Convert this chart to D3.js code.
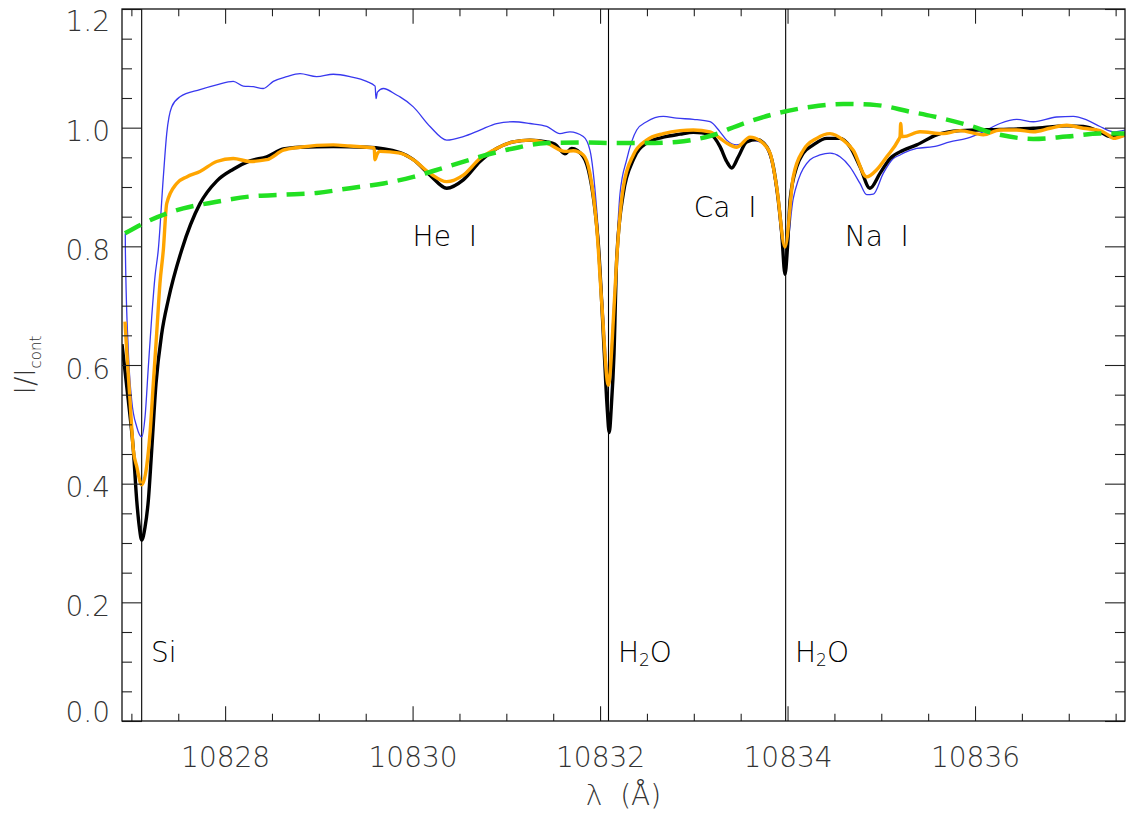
<!DOCTYPE html>
<html>
<head>
<meta charset="utf-8">
<script src="https://cdn.jsdelivr.net/npm/d3@7"></script>
<style>
  body { margin: 0; background: #fff; }
  svg text { font-family: "DejaVu Sans", "Liberation Sans", sans-serif; }
</style>
</head>
<body>
<svg id="chart" width="1126" height="814"></svg>
<script>
// ---- data -------------------------------------------------------------
// wavelength (Å), normalised intensity I/Icont

// synthetic spectrum (black)
const synthWave = [10826.900,10826.967,10827.021,10827.057,10827.085,10827.110,10827.146,10827.181,10827.217,10827.263,10827.324,10827.394,10827.537,10827.732,10827.910,10828.087,10828.265,10828.444,10828.621,10828.799,10829.154,10829.510,10829.866,10830.008,10830.186,10830.364,10830.541,10830.719,10830.897,10831.074,10831.252,10831.431,10831.519,10831.626,10831.697,10831.821,10831.892,10831.946,10831.981,10832.045,10832.075,10832.098,10832.120,10832.149,10832.177,10832.248,10832.355,10832.497,10832.675,10832.853,10832.995,10833.173,10833.280,10833.351,10833.404,10833.475,10833.564,10833.671,10833.778,10833.849,10833.901,10833.938,10833.973,10834.000,10834.027,10834.098,10834.168,10834.275,10834.418,10834.560,10834.666,10834.773,10834.879,10834.986,10835.093,10835.235,10835.378,10835.591,10835.840,10836.266,10836.622,10836.978,10837.155,10837.333,10837.440,10837.600];
const synthFlux = [0.635,0.541,0.457,0.372,0.327,0.305,0.327,0.372,0.457,0.569,0.653,0.710,0.794,0.872,0.910,0.930,0.944,0.951,0.964,0.967,0.968,0.967,0.958,0.946,0.920,0.898,0.912,0.943,0.965,0.976,0.979,0.976,0.972,0.956,0.965,0.951,0.917,0.861,0.805,0.620,0.530,0.486,0.530,0.620,0.777,0.889,0.946,0.974,0.984,0.989,0.992,0.989,0.968,0.943,0.932,0.951,0.976,0.980,0.968,0.934,0.878,0.822,0.753,0.800,0.878,0.934,0.957,0.971,0.982,0.982,0.968,0.934,0.898,0.923,0.948,0.962,0.971,0.988,0.995,0.997,0.999,1.003,1.002,0.993,0.985,0.987];

// observed spectrum, orange
const obsAWave = [10826.932,10826.950,10826.985,10827.021,10827.057,10827.110,10827.163,10827.199,10827.234,10827.270,10827.305,10827.341,10827.377,10827.484,10827.590,10827.732,10827.910,10828.087,10828.265,10828.444,10828.621,10828.799,10829.154,10829.332,10829.510,10829.590,10829.599,10829.620,10829.652,10829.866,10830.008,10830.186,10830.364,10830.541,10830.719,10830.897,10831.074,10831.252,10831.431,10831.626,10831.714,10831.821,10831.892,10831.964,10832.020,10832.088,10832.150,10832.177,10832.248,10832.355,10832.497,10832.675,10832.853,10832.995,10833.173,10833.280,10833.351,10833.458,10833.599,10833.706,10833.813,10833.884,10833.973,10834.061,10834.168,10834.311,10834.453,10834.595,10834.701,10834.844,10834.951,10835.058,10835.182,10835.200,10835.207,10835.220,10835.235,10835.413,10835.661,10835.840,10836.088,10836.266,10836.445,10836.622,10836.800,10836.978,10837.155,10837.333,10837.418,10837.475,10837.600];
const obsAFlux = [0.673,0.625,0.541,0.457,0.429,0.398,0.429,0.485,0.569,0.653,0.738,0.794,0.872,0.906,0.917,0.926,0.943,0.948,0.943,0.946,0.962,0.967,0.971,0.969,0.967,0.966,0.946,0.955,0.960,0.957,0.946,0.923,0.909,0.920,0.948,0.965,0.976,0.979,0.974,0.960,0.961,0.954,0.923,0.833,0.700,0.566,0.700,0.777,0.900,0.954,0.979,0.990,0.995,0.996,0.993,0.982,0.974,0.967,0.984,0.978,0.957,0.900,0.799,0.917,0.962,0.982,0.990,0.979,0.962,0.917,0.929,0.951,0.979,0.985,1.007,0.985,0.985,0.993,0.990,0.995,0.988,0.996,0.996,0.993,0.999,1.004,0.999,0.995,0.988,0.982,0.988];

// observed spectrum, blue
const obsBWave = [10826.935,10826.936,10826.967,10827.003,10827.057,10827.110,10827.146,10827.181,10827.217,10827.252,10827.287,10827.341,10827.377,10827.430,10827.519,10827.732,10827.910,10828.087,10828.194,10828.301,10828.407,10828.514,10828.657,10828.799,10828.977,10829.154,10829.332,10829.510,10829.600,10829.610,10829.625,10829.688,10829.830,10829.866,10830.008,10830.186,10830.364,10830.541,10830.719,10830.897,10831.074,10831.252,10831.431,10831.572,10831.679,10831.821,10831.892,10831.964,10832.030,10832.090,10832.160,10832.213,10832.284,10832.391,10832.497,10832.675,10832.817,10832.995,10833.173,10833.280,10833.351,10833.458,10833.599,10833.706,10833.813,10833.884,10833.973,10834.060,10834.115,10834.240,10834.346,10834.453,10834.560,10834.666,10834.773,10834.844,10834.915,10835.021,10835.128,10835.200,10835.235,10835.378,10835.555,10835.733,10835.911,10836.088,10836.266,10836.445,10836.622,10836.871,10837.049,10837.191,10837.333,10837.475,10837.600];
const obsBFlux = [0.822,0.794,0.625,0.541,0.496,0.479,0.513,0.597,0.681,0.749,0.794,0.917,0.990,1.035,1.052,1.064,1.072,1.078,1.070,1.069,1.066,1.078,1.086,1.091,1.086,1.090,1.086,1.078,1.070,1.049,1.060,1.066,1.055,1.052,1.035,1.002,0.979,0.985,0.996,1.007,1.010,1.007,1.002,0.990,0.993,0.985,0.962,0.862,0.700,0.580,0.750,0.889,0.946,0.996,1.010,1.019,1.016,1.014,1.010,0.993,0.979,0.971,0.979,0.976,0.951,0.889,0.777,0.880,0.912,0.946,0.954,0.957,0.951,0.934,0.906,0.887,0.888,0.923,0.948,0.954,0.957,0.965,0.968,0.976,0.982,0.993,1.007,1.014,1.010,1.018,1.019,1.013,1.002,0.993,0.996];

// broad profile (green dashed)
const profWave = [10826.932,10827.199,10827.554,10827.910,10828.265,10828.621,10828.977,10829.332,10829.688,10830.008,10830.364,10830.719,10831.074,10831.431,10831.800,10832.200,10832.497,10832.817,10833.173,10833.528,10833.884,10834.240,10834.595,10834.951,10835.306,10835.555,10835.911,10836.266,10836.622,10836.978,10837.333,10837.600];
const profFlux = [0.822,0.844,0.864,0.875,0.884,0.887,0.890,0.898,0.906,0.917,0.934,0.951,0.965,0.974,0.975,0.974,0.974,0.976,0.986,1.007,1.024,1.035,1.040,1.038,1.027,1.019,1.005,0.988,0.981,0.985,0.990,0.990];

// line identifications
const lineWaves  = [10827.11, 10832.09, 10833.98];
const lineNames  = ["Si", "H2O", "H2O"];
const bandNames  = ["He I", "Ca I", "Na I"];
const bandWaves  = [10830.00, 10833.00, 10834.61];
const bandLevels = [0.80, 0.85, 0.80];

// axes
const xDomain = [10826.9, 10837.6];
const yDomain = [0, 1.2];
const xTicks = [10828, 10830, 10832, 10834, 10836];
const yTicks = [0.0, 0.2, 0.4, 0.6, 0.8, 1.0, 1.2];

// ---- drawing ----------------------------------------------------------
const L = 122, R = 1125, T = 9, B = 721;
const svg = d3.select("#chart");
svg.append("rect").attr("width", 1126).attr("height", 814).attr("fill", "#fff");

const x = d3.scaleLinear().domain(xDomain).range([L, R]);
const y = d3.scaleLinear().domain(yDomain).range([B, T]);

svg.append("defs").append("clipPath").attr("id", "plotClip")
  .append("rect").attr("x", L).attr("y", T).attr("width", R - L).attr("height", B - T);

const plot = svg.append("g").attr("clip-path", "url(#plotClip)");

const zip = (w, f) => w.map((d, i) => [d, f[i]]);
const line = d3.line().x(d => x(d[0])).y(d => y(d[1])).curve(d3.curveMonotoneX);

// vertical identification lines
plot.selectAll("line.ident").data(lineWaves).join("line")
  .attr("class", "ident")
  .attr("x1", d => x(d)).attr("x2", d => x(d))
  .attr("y1", T).attr("y2", B)
  .attr("stroke", "#000").attr("stroke-width", 1.1);

plot.append("path").datum(zip(obsBWave, obsBFlux))
  .attr("d", line).attr("fill", "none")
  .attr("stroke", "#3838ef").attr("stroke-width", 1.3);

plot.append("path").datum(zip(synthWave, synthFlux))
  .attr("d", line).attr("fill", "none")
  .attr("stroke", "#000").attr("stroke-width", 3.4).attr("stroke-linejoin", "round");

plot.append("path").datum(zip(obsAWave, obsAFlux))
  .attr("d", line).attr("fill", "none")
  .attr("stroke", "#ffa500").attr("stroke-width", 3.4).attr("stroke-linejoin", "round");

plot.append("path").datum(zip(profWave, profFlux))
  .attr("d", line).attr("fill", "none")
  .attr("stroke", "#22e022").attr("stroke-width", 4.5)
  .attr("stroke-dasharray", "18 10");

// axes: ticks on all four sides, pointing inward
const tickCol = "#222";
const xMinor = d3.range(10827, 10837.6, 0.5).filter(v => !xTicks.includes(v));
const yMinor = d3.range(0, 1.2001, 0.05).map(v => +v.toFixed(2)).filter(v => !yTicks.includes(v));

function styleAxis(g) {
  g.select(".domain").remove();
  g.selectAll(".tick line").attr("stroke", tickCol).attr("stroke-width", 1.1);
}

const bottom = svg.append("g").attr("transform", `translate(0,${B})`)
  .call(d3.axisBottom(x).tickValues(xTicks).tickSizeInner(-14.7).tickSizeOuter(0).tickFormat(d3.format("d")))
  .call(styleAxis);
bottom.selectAll(".tick text")
  .attr("y", 46).attr("dy", null)
  .attr("font-size", 28).attr("font-weight", 200).attr("fill", "#333");
svg.append("g").attr("transform", `translate(0,${B})`)
  .call(d3.axisBottom(x).tickValues(xMinor).tickSizeInner(-7.3).tickSizeOuter(0).tickFormat(""))
  .call(styleAxis);
svg.append("g").attr("transform", `translate(0,${T})`)
  .call(d3.axisTop(x).tickValues(xTicks).tickSizeInner(-14.7).tickSizeOuter(0).tickFormat(""))
  .call(styleAxis);
svg.append("g").attr("transform", `translate(0,${T})`)
  .call(d3.axisTop(x).tickValues(xMinor).tickSizeInner(-7.3).tickSizeOuter(0).tickFormat(""))
  .call(styleAxis);

const left = svg.append("g").attr("transform", `translate(${L},0)`)
  .call(d3.axisLeft(y).tickValues(yTicks).tickSizeInner(-20).tickSizeOuter(0).tickFormat(d3.format(".1f")))
  .call(styleAxis);
left.selectAll(".tick text")
  .attr("x", -12).attr("dy", null)
  .attr("y", d => Math.min(Math.max(y(d) + 13, T + 21.7), B + 0.7) - y(d))
  .attr("text-anchor", "end")
  .attr("font-size", 28).attr("font-weight", 200).attr("fill", "#333");
svg.append("g").attr("transform", `translate(${L},0)`)
  .call(d3.axisLeft(y).tickValues(yMinor).tickSizeInner(-10).tickSizeOuter(0).tickFormat(""))
  .call(styleAxis);
svg.append("g").attr("transform", `translate(${R},0)`)
  .call(d3.axisRight(y).tickValues(yTicks).tickSizeInner(-20).tickSizeOuter(0).tickFormat(""))
  .call(styleAxis);
svg.append("g").attr("transform", `translate(${R},0)`)
  .call(d3.axisRight(y).tickValues(yMinor).tickSizeInner(-10).tickSizeOuter(0).tickFormat(""))
  .call(styleAxis);

// frame
svg.append("rect").attr("x", L).attr("y", T).attr("width", R - L).attr("height", B - T)
  .attr("fill", "none").attr("stroke", "#111").attr("stroke-width", 1.3);

// identification labels
const labelY = 0.10;
lineWaves.forEach((w, i) => {
  const t = svg.append("text")
    .attr("x", x(w + 0.1)).attr("y", y(labelY))
    .attr("font-size", 28).attr("font-weight", 300).attr("fill", "#000");
  const name = lineNames[i];
  if (name === "H2O") {
    t.append("tspan").text("H");
    t.append("tspan").attr("font-size", 17).attr("dy", 4).text("2");
    t.append("tspan").attr("dy", -4).text("O");
  } else {
    t.text(name);
  }
});
bandNames.forEach((n, i) => {
  svg.append("text")
    .attr("x", x(bandWaves[i])).attr("y", y(bandLevels[i]))
    .attr("font-size", 28).attr("font-weight", 300).attr("fill", "#000")
    .style("white-space", "pre")
    .text(n.replace(" ", "  "));
});

// axis titles
svg.append("text")
  .attr("x", (L + R) / 2).attr("y", 805)
  .attr("text-anchor", "middle")
  .attr("font-size", 28).attr("font-weight", 200).attr("fill", "#333")
  .style("white-space", "pre")
  .text("λ  (Å)");

const yt = svg.append("text")
  .attr("transform", "translate(35,365) rotate(-90)")
  .attr("text-anchor", "middle")
  .attr("font-size", 28).attr("font-weight", 200).attr("fill", "#333");
yt.append("tspan").text("I/I");
yt.append("tspan").attr("font-size", 15).attr("dy", 6).text("cont");
</script>
</body>
</html>
